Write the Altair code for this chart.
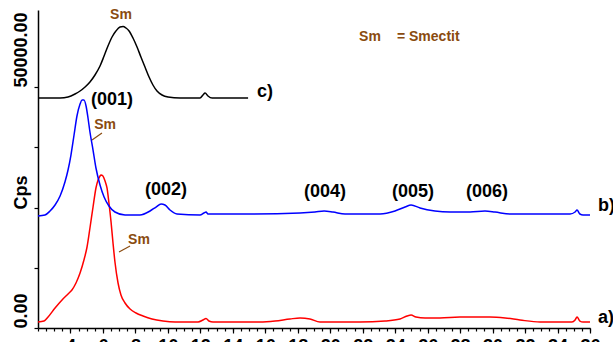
import altair as alt
import pandas as pd

# --- diffractogram traces: 2-theta (deg) and intensity (cps) ---
theta_a = [2.0, 2.37, 2.62, 3.05, 3.48, 3.85, 4.09, 4.34, 4.59, 4.83, 5.02, 5.20, 5.39, 5.57,
           5.70, 5.82, 5.88, 6.00, 6.13, 6.25, 6.37, 6.50, 6.62, 6.74, 6.93, 7.11, 7.36, 7.67,
           8.04, 8.47, 9.02, 9.70, 10.44, 11.86, 12.16, 12.35, 12.53, 12.78, 15.67, 16.60,
           17.52, 18.14, 18.75, 19.37, 21.83, 23.37, 24.30, 24.73, 24.98, 25.28, 25.84, 26.76,
           27.99, 29.84, 30.77, 31.69, 32.92, 34.89, 35.08, 35.20, 35.38, 35.57, 36.0]
cps_a = [1250, 1450, 2280, 4150, 5810, 7060, 7890, 9340, 11415, 14110, 16810, 20755, 25110, 29060,
         30720, 31550, 31755, 31550, 30510, 29060, 25940, 22000, 17640, 13700, 9340, 6850, 5190, 3940,
         3110, 2490, 1870, 1450, 1250, 1250, 1660, 1970, 1450, 1250, 1250, 1450,
         1870, 2080, 1870, 1250, 1250, 1450, 1870, 2490, 2700, 2280, 2080, 2080,
         2280, 2280, 2080, 1660, 1250, 1250, 1660, 2280, 1450, 1250, 1250]

theta_b = [2.0, 2.43, 2.74, 3.05, 3.36, 3.66, 3.85, 4.03, 4.22, 4.40, 4.59, 4.71, 4.83, 4.96,
           5.08, 5.20, 5.39, 5.57, 5.82, 6.07, 6.37, 6.74, 7.36, 8.28, 8.90, 9.27, 9.58, 9.82,
           10.13, 10.56, 11.98, 12.22, 12.35, 12.47, 15.06, 18.14, 19.06, 19.62, 20.17, 20.91,
           23.07, 23.99, 24.61, 24.98, 25.53, 26.45, 27.38, 28.61, 29.53, 30.15, 31.07, 34.77,
           35.08, 35.20, 35.38, 35.57, 36.0]
cps_b = [23245, 23450, 24280, 25530, 27400, 30300, 32790, 35905, 40055, 44000, 46490, 47320, 47320, 46075,
         43585, 40680, 36940, 33210, 29680, 27190, 25320, 24075, 23450, 23450, 24280, 25110, 25740, 25530,
         24490, 23660, 23450, 23870, 24075, 23660, 23660, 23870, 24075, 24280, 24075, 23660,
         23660, 24280, 25110, 25530, 24900, 24280, 24075, 24075, 24280, 24075, 23660, 23660,
         24075, 24490, 23660, 23450, 23450]

theta_c = [2.0, 3.36, 3.85, 4.28, 4.59, 4.90, 5.20, 5.51, 5.82, 6.07, 6.31, 6.56, 6.80, 7.05,
           7.24, 7.42, 7.61, 7.85, 8.10, 8.34, 8.59, 8.84, 9.08, 9.33, 9.64, 10.01, 10.75, 11.98,
           12.16, 12.29, 12.47, 12.72, 14.94]
cps_c = [47735, 47735, 47945, 48570, 49190, 50020, 51060, 52510, 54380, 56450, 58530, 60400, 61640, 62470,
         62580, 62265, 61640, 60190, 58320, 56245, 54170, 52095, 50435, 49190, 48360, 47945, 47735, 47735,
         48360, 48775, 48150, 47735, 47735]

# --- x axis ticks (deg 2-theta) ---
major_ticks = [4, 6, 8, 10, 12, 14, 16, 18, 20, 22, 24, 26, 28, 30, 32, 34, 36]
minor_ticks = [2 + 0.5 * i for i in range(69)]

# --- reflection labels ---
hkl_text = ["(001)", "(002)", "(004)", "(005)", "(006)"]
hkl_theta = [6.56, 9.88, 19.68, 25.10, 29.66]
hkl_cps = [47320, 28640, 28230, 28230, 28230]

# --- smectite markers and their leader lines ---
sm_theta = [7.11, 6.13, 8.22]
sm_cps = [64960, 42130, 18265]
lead_theta = [5.33, 6.99]
lead_theta2 = [5.94, 7.67]
lead_cps = [39020, 15770]
lead_cps2 = [40470, 17020]

# --- sample tags a) b) c) ---
tag_text = ["a)", "b)", "c)"]
tag_theta = [36.49, 36.49, 15.49]
tag_cps = [2075, 25320, 48980]

# --- key ---
key_text = ["Sm", "= Smectit"]
key_theta = [22.45, 24.11]
key_cps = [60400, 60400]

FONT = "Liberation Sans"
BROWN = "#8a4b0f"

traces = pd.concat([
    pd.DataFrame({"theta": theta_a, "cps": cps_a, "sample": "a"}),
    pd.DataFrame({"theta": theta_b, "cps": cps_b, "sample": "b"}),
    pd.DataFrame({"theta": theta_c, "cps": cps_c, "sample": "c"}),
])

x_scale = alt.Scale(domain=[2, 36], nice=False, zero=False)
y_scale = alt.Scale(domain=[0, 66000], nice=False)

x_axis = alt.Axis(
    values=major_ticks,
    format="d",
    title=None,
    grid=False,
    orient="bottom",
    labelOverlap=False,
    labelFlush=False,
    tickSize=5,
    tickColor="black",
    tickWidth=1.2,
    domainColor="black",
    domainWidth=1.5,
    labelFont=FONT,
    labelFontSize=18,
    labelFontWeight="bold",
    labelColor="black",
    labelPadding=4,
)
x_minor_axis = alt.Axis(
    values=minor_ticks,
    title=None,
    grid=False,
    orient="bottom",
    labels=False,
    domain=False,
    tickSize=3,
    tickColor="black",
    tickWidth=1.2,
)
y_axis = alt.Axis(
    values=[0, 12500, 25000, 37500, 50000],
    labelExpr="datum.value == 0 ? '0.00' : datum.value == 50000 ? '50000.00' : ''",
    labelOverlap=False,
    grid=False,
    tickSize=4,
    tickColor="black",
    tickWidth=1.2,
    domainColor="black",
    domainWidth=1.5,
    labelAngle=270,
    labelAlign="left",
    labelBaseline="middle",
    labelPadding=13,
    labelFont=FONT,
    labelFontSize=18,
    labelFontWeight="bold",
    labelColor="black",
    title="Cps",
    titleFont=FONT,
    titleFontSize=18,
    titleFontWeight="bold",
    titleColor="black",
    titleAngle=270,
    titleAlign="center",
    titleBaseline="middle",
    titleX=-17,
    titleY=182,
)

lines = alt.Chart(traces).mark_line(strokeWidth=1.5, interpolate="monotone").encode(
    x=alt.X("theta:Q", scale=x_scale, axis=x_axis),
    y=alt.Y("cps:Q", scale=y_scale, axis=y_axis),
    color=alt.Color("sample:N", scale=alt.Scale(domain=["a", "b", "c"],
                                                range=["#ff0000", "#0000ff", "#000000"]),
                    legend=None),
    detail="sample:N",
)

# invisible layer carrying the minor-tick axis
minor = alt.Chart(pd.DataFrame({"theta": minor_ticks})).mark_tick(opacity=0).encode(
    x=alt.X("theta:Q", scale=x_scale, axis=x_minor_axis),
)

hkl = alt.Chart(pd.DataFrame({"t": hkl_text, "x": hkl_theta, "y": hkl_cps})).mark_text(
    font=FONT, fontSize=18, fontWeight="bold", color="black"
).encode(x=alt.X("x:Q", scale=x_scale, axis=None), y=alt.Y("y:Q", scale=y_scale), text="t:N")

sm = alt.Chart(pd.DataFrame({"t": ["Sm"] * 3, "x": sm_theta, "y": sm_cps})).mark_text(
    font=FONT, fontSize=14, fontWeight="bold", color=BROWN
).encode(x=alt.X("x:Q", scale=x_scale, axis=None), y=alt.Y("y:Q", scale=y_scale), text="t:N")

leads = alt.Chart(pd.DataFrame({"x": lead_theta, "x2": lead_theta2,
                                "y": lead_cps, "y2": lead_cps2})).mark_rule(
    color=BROWN, strokeWidth=1.2
).encode(x=alt.X("x:Q", scale=x_scale, axis=None), x2="x2:Q",
         y=alt.Y("y:Q", scale=y_scale), y2="y2:Q")

tags = alt.Chart(pd.DataFrame({"t": tag_text, "x": tag_theta, "y": tag_cps})).mark_text(
    font=FONT, fontSize=18, fontWeight="bold", color="black", align="left"
).encode(x=alt.X("x:Q", scale=x_scale, axis=None), y=alt.Y("y:Q", scale=y_scale), text="t:N")

key_sm = alt.Chart(pd.DataFrame({"t": key_text[:1], "x": key_theta[:1], "y": key_cps[:1]})).mark_text(
    font=FONT, fontSize=14, fontWeight="bold", color=BROWN, align="center"
).encode(x=alt.X("x:Q", scale=x_scale, axis=None), y=alt.Y("y:Q", scale=y_scale), text="t:N")

key_def = alt.Chart(pd.DataFrame({"t": key_text[1:], "x": key_theta[1:], "y": key_cps[1:]})).mark_text(
    font=FONT, fontSize=14, fontWeight="bold", color=BROWN, align="left"
).encode(x=alt.X("x:Q", scale=x_scale, axis=None), y=alt.Y("y:Q", scale=y_scale), text="t:N")

chart = alt.layer(lines, minor, leads, hkl, sm, tags, key_sm, key_def).resolve_axis(
    x="independent"
).properties(
    width=552,
    height=318,
    padding={"left": 38, "top": 10, "right": 23, "bottom": 14},
    autosize=alt.AutoSizeParams(type="none"),
    background="white",
).configure_view(stroke=None)

chart.save("out.html", embed_options={"renderer": "svg", "actions": False})
